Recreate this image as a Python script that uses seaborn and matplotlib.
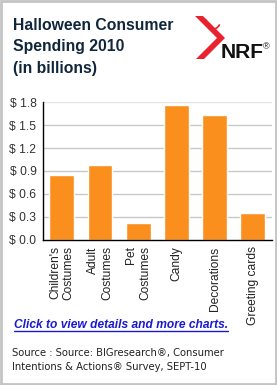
import matplotlib
matplotlib.use("Agg")
import matplotlib.pyplot as plt
import seaborn as sns
import pandas as pd
from matplotlib.patches import Polygon, Rectangle, Arc

categories = ["Children's\nCostumes", "Adult\nCostumes", "Pet\nCostumes",
              "Candy", "Decorations", "Greeting cards"]
spending = [0.84, 0.98, 0.22, 1.77, 1.63, 0.35]
yticks = [0.0, 0.3, 0.6, 0.9, 1.2, 1.5, 1.8]
ytick_labels = ["$ 0.0", "$ 0.3", "$ 0.6", "$ 0.9", "$ 1.2", "$ 1.5", "$ 1.8"]
title_lines = ["Halloween Consumer", "Spending 2010", "(in billions)"]
link_text = "Click to view details and more charts."
source_lines = ["Source : Source: BIGresearch\u00ae, Consumer",
                "Intentions & Actions\u00ae Survey, SEPT-10"]

sns.set_theme(style="white")
plt.rcParams["font.family"] = ["Liberation Sans", "DejaVu Sans"]

W, H = 277, 385
DPI = 100
fig = plt.figure(figsize=(W / DPI, H / DPI), dpi=DPI)
fig.patch.set_facecolor("white")

def px(v):
    return v * 72 / DPI

# chart axes
left, right, top, bottom = 42.7, 272.0, 102.3, 239.5
ax = fig.add_axes([left / W, 1 - bottom / H, (right - left) / W, (bottom - top) / H])
df = pd.DataFrame({"cat": categories, "val": spending})
sns.barplot(data=df, x="cat", y="val", color="#FB8F1E", saturation=1, width=0.65,
            ax=ax, zorder=3)
ax.set_xlim(-0.5, len(categories) - 0.5)
ax.set_ylim(0, 1.8)
ax.set_yticks(yticks)
ax.set_yticklabels(ytick_labels, fontsize=px(12), color="#333333")
ax.set_xlabel("")
ax.set_ylabel("")
ax.tick_params(axis="both", length=0, pad=4.5)
ax.set_xticks(range(len(categories)))
ax.set_xticklabels(categories, rotation=90, fontsize=px(12), color="#222222",
                   ha="center", va="top", multialignment="right")
ax.tick_params(axis="x", pad=5)
for y in yticks[1:]:
    ax.axhline(y, color="#c8c8c8" if y < 1.8 else "#e4e4e4", lw=1, zorder=1)
for s in ["top", "right"]:
    ax.spines[s].set_visible(False)
for s in ["left", "bottom"]:
    ax.spines[s].set_color("black")
    ax.spines[s].set_linewidth(1)
    ax.spines[s].set_zorder(4)

# overlay in pixel coordinates
ov = fig.add_axes([0, 0, 1, 1], zorder=-1)
ov.set_xlim(0, W)
ov.set_ylim(H, 0)
ov.axis("off")
ov.add_patch(Rectangle((1, 1), W - 2.5, H - 2.5, fill=False, ec="#c4c4c4", lw=2))

ov2 = fig.add_axes([0, 0, 1, 1], zorder=5)
ov2.set_xlim(0, W)
ov2.set_ylim(H, 0)
ov2.axis("off")
ov2.patch.set_alpha(0)

for i, t in enumerate(title_lines):
    ov2.text(13, 26 + i * 21, t, fontsize=px(15.8), fontweight="bold",
             color="#10263a", va="center", ha="left")

# NRF logo
ov2.add_patch(Polygon([(195, 16), (203, 16), (225, 38), (204, 59), (196, 59), (217, 38)],
                      closed=True, fc="#e8222e", ec="none"))
ov2.add_patch(Arc((213, 22), 14, 14, theta1=20, theta2=200, color="#e8222e", lw=1.2))
ov2.text(221, 58, "NRF", fontsize=px(21), fontweight="bold", color="#111111",
         ha="left", va="baseline")
ov2.text(263, 47, "\u00ae", fontsize=px(9), color="#111111", ha="left", va="center")

ov2.text(14, 325, link_text, fontsize=px(12), fontweight="bold", fontstyle="italic",
         color="#1a1ad0", ha="left", va="center")
ov2.plot([14, 228], [331, 331], color="#1a1ad0", lw=1)

for i, t in enumerate(source_lines):
    ov2.text(12, 353 + i * 14, t, fontsize=px(10), color="#222222",
             ha="left", va="center", family=["DejaVu Sans"])

fig.savefig("out.png", dpi=DPI, facecolor="white")
